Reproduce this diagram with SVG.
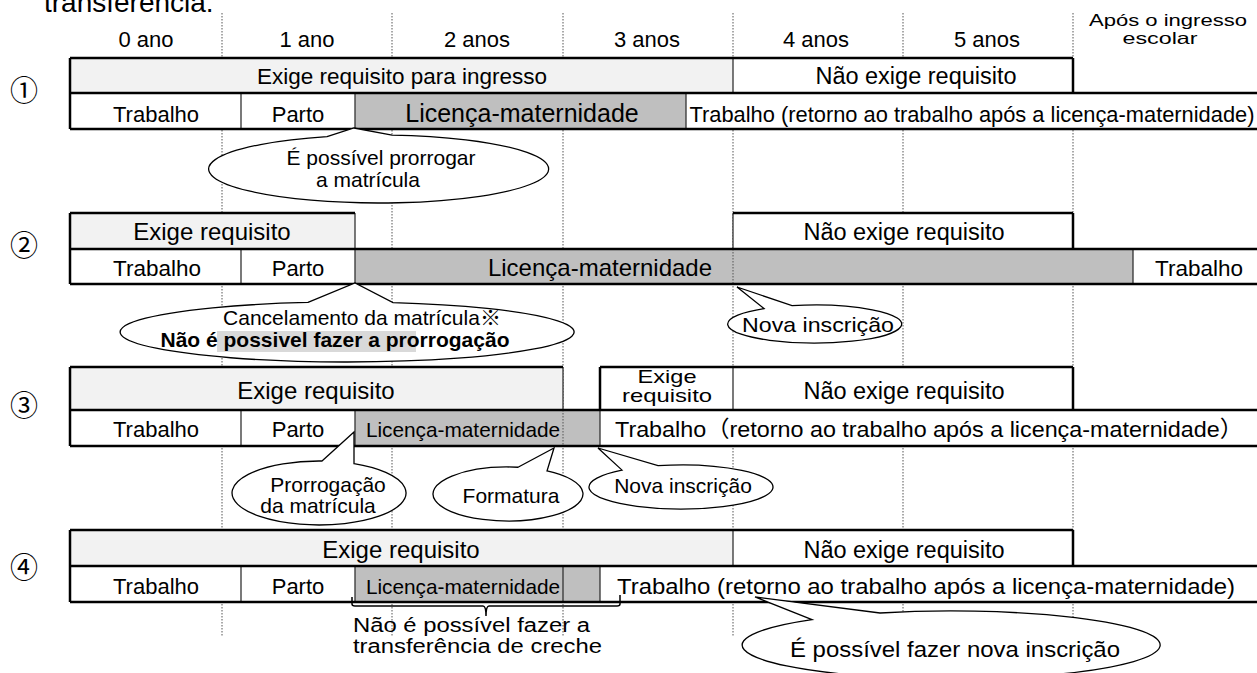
<svg xmlns="http://www.w3.org/2000/svg" width="1257" height="673" viewBox="0 0 1257 673">
<defs>
<style>
.t{font-family:"Liberation Sans","Noto Sans CJK JP",sans-serif;fill:#000;text-anchor:middle}
.num{font-family:"Noto Sans CJK JP",sans-serif;fill:#000;text-anchor:middle;font-size:28px}
.light{fill:#f2f2f2}
.gray{fill:#bfbfbf}
.white{fill:#fff}
.thick{stroke:#000;stroke-width:2.5;fill:none}
.thin{stroke:#333;stroke-width:1.3;fill:none}
.dot{stroke:#555;stroke-width:1;stroke-dasharray:1.5 1.5;fill:none}
.callout{fill:#fff;stroke:#000;stroke-width:1.3}
</style>
</defs>
<rect width="1257" height="673" fill="#fff"/>
<text class="t" x="44" y="12" font-size="28" style="text-anchor:start">transferência.</text>

<g id="gridlines">
<path class="dot" d="M222,13V637M392,13V637M563,13V637M733,13V637M903,13V637M1073,13V637"/>
</g>

<g id="header">
<text class="t" x="146" y="47" font-size="22">0 ano</text>
<text class="t" x="307" y="47" font-size="22">1 ano</text>
<text class="t" x="477" y="47" font-size="22">2 anos</text>
<text class="t" x="647" y="47" font-size="22">3 anos</text>
<text class="t" x="816" y="47" font-size="22">4 anos</text>
<text class="t" x="987" y="47" font-size="22">5 anos</text>
<text class="t" x="1168" y="26" font-size="16.5" textLength="158" lengthAdjust="spacingAndGlyphs">Após o ingresso</text>
<text class="t" x="1160" y="44" font-size="16.5" textLength="75" lengthAdjust="spacingAndGlyphs">escolar</text>
</g>

<g id="row1">
<text class="num" x="24" y="101">①</text>
<rect class="light" x="70" y="58" width="663" height="35"/>
<rect class="white" x="733" y="58" width="340" height="35"/>
<rect class="white" x="70" y="93" width="1187" height="36"/>
<rect class="gray" x="355" y="93" width="331" height="36"/>
<path class="thin" d="M733,58V93M241,93V129M355,93V129M686,93V129"/>
<path class="thick" d="M70,58H1073M1073,58V93M70,93H1257M70,129H1257M70,58V129"/>
<text class="t" x="402" y="84" font-size="22.5">Exige requisito para ingresso</text>
<text class="t" x="916" y="84" font-size="23.5">Não exige requisito</text>
<text class="t" x="156" y="122" font-size="22">Trabalho</text>
<text class="t" x="298" y="122" font-size="22">Parto</text>
<text class="t" x="522" y="122" font-size="25">Licença-maternidade</text>
<text class="t" x="972" y="122" font-size="22" textLength="565" lengthAdjust="spacingAndGlyphs">Trabalho (retorno ao trabalho após a licença-maternidade)</text>
</g>

<g id="row2">
<text class="num" x="24" y="256">②</text>
<rect class="light" x="70" y="213" width="285" height="36"/>
<rect class="white" x="733" y="213" width="340" height="36"/>
<rect class="white" x="70" y="249" width="1187" height="35"/>
<rect class="gray" x="355" y="249" width="778" height="35"/>
<path class="thin" d="M355,213V249M733,213V249M241,249V284M355,249V284M1133,249V284"/>
<path class="dot" d="M733,249V284"/>
<path class="thick" d="M70,213H355M733,213H1073M1073,213V249M70,249H1257M70,284H1257M70,213V284"/>
<text class="t" x="212" y="240" font-size="24">Exige requisito</text>
<text class="t" x="904" y="240" font-size="23.5">Não exige requisito</text>
<text class="t" x="157" y="276" font-size="22.5">Trabalho</text>
<text class="t" x="298" y="276" font-size="22">Parto</text>
<text class="t" x="600" y="276" font-size="24">Licença-maternidade</text>
<text class="t" x="1199" y="276" font-size="22.5">Trabalho</text>
</g>

<g id="row3">
<text class="num" x="24" y="416">③</text>
<rect class="light" x="70" y="367" width="493" height="43"/>
<rect class="white" x="600" y="367" width="473" height="43"/>
<rect class="white" x="70" y="410" width="1187" height="36"/>
<rect class="gray" x="355" y="410" width="245" height="36"/>
<path class="thin" d="M563,367V410M733,367V410M241,410V446M355,410V446M600,410V446"/>
<path class="dot" d="M563,410V446"/>
<path class="thick" d="M70,367H563M600,367H1073M600,367V410M1073,367V410M70,410H1257M70,446H1257M70,367V446"/>
<text class="t" x="316" y="399" font-size="24">Exige requisito</text>
<text class="t" x="667" y="383" font-size="18.5" textLength="59" lengthAdjust="spacingAndGlyphs">Exige</text>
<text class="t" x="667" y="402" font-size="18.5" textLength="90" lengthAdjust="spacingAndGlyphs">requisito</text>
<text class="t" x="904" y="399" font-size="23.5">Não exige requisito</text>
<text class="t" x="156" y="437" font-size="22">Trabalho</text>
<text class="t" x="298" y="437" font-size="22">Parto</text>
<text class="t" x="463" y="437" font-size="20.8">Licença-maternidade</text>
<text class="t" x="929" y="437" font-size="22.5" textLength="628" lengthAdjust="spacingAndGlyphs">Trabalho（retorno ao trabalho após a licença-maternidade）</text>
</g>

<g id="row4">
<text class="num" x="24" y="578">④</text>
<rect class="light" x="70" y="530" width="663" height="36"/>
<rect class="white" x="733" y="530" width="340" height="36"/>
<rect class="white" x="70" y="566" width="1187" height="36"/>
<rect class="gray" x="355" y="566" width="245" height="36"/>
<path class="thin" d="M733,530V566M241,566V602M355,566V602M563,566V602M600,566V602"/>
<path class="thick" d="M70,530H1073M1073,530V566M70,566H1257M70,602H1257M70,530V602"/>
<text class="t" x="401" y="558" font-size="24">Exige requisito</text>
<text class="t" x="904" y="558" font-size="23.5">Não exige requisito</text>
<text class="t" x="156" y="594" font-size="22">Trabalho</text>
<text class="t" x="298" y="594" font-size="22">Parto</text>
<text class="t" x="463" y="594" font-size="20.8">Licença-maternidade</text>
<text class="t" x="926" y="594" font-size="22" textLength="618" lengthAdjust="spacingAndGlyphs">Trabalho (retorno ao trabalho após a licença-maternidade)</text>
</g>

<g id="connectors">
<path d="M352,597V604Q352,606 355,606H483Q486,606 486,616Q486,606 489,606H617Q620,606 620,604V595" fill="none" stroke="#000" stroke-width="1.5"/>
</g>

<g id="callout1">
<path class="callout" d="M327,136.6L354,128L392,135.1A170,34 0 1 1 327,136.6Z"/>
<text class="t" x="381" y="165" font-size="21">É possível prorrogar</text>
<text class="t" x="368" y="187" font-size="21">a matrícula</text>
</g>

<g id="callout2">
<path class="callout" d="M308,302.45L355,283L393,302.62A227,30 0 1 1 308,302.45Z"/>
<rect x="217" y="331" width="199" height="21" fill="#d9d9d9"/>
<text class="t" x="362" y="325" font-size="21">Cancelamento da matrícula※</text>
<text class="t" x="335" y="347" font-size="21" font-weight="bold">Não é possivel fazer a prorrogação</text>
</g>

<g id="callout2b">
<path class="callout" d="M764,308.6L737,287L792,305.7A87,19 0 1 1 764,308.6Z"/>
<text class="t" x="818" y="332" font-size="21" textLength="152" lengthAdjust="spacingAndGlyphs">Nova inscrição</text>
</g>

<g id="callout3a">
<path class="callout" d="M322,461.02L354,432L354,463.7A87,32 0 1 1 322,461.02Z"/>
<text class="t" x="328" y="492" font-size="21">Prorrogação</text>
<text class="t" x="318" y="513" font-size="21">da matrícula</text>
</g>

<g id="callout3b">
<path class="callout" d="M518,467.24L554,448L547,470.94A75,27 0 1 1 518,467.24Z"/>
<text class="t" x="511" y="503" font-size="21">Formatura</text>
</g>

<g id="callout3c">
<path class="callout" d="M622,470.12L598,448L658,465.7A92,22 0 1 1 622,470.12Z"/>
<text class="t" x="683" y="493" font-size="21">Nova inscrição</text>
</g>

<g id="bracket-label">
<text class="t" x="353" y="632" font-size="19.5" style="text-anchor:start" textLength="237" lengthAdjust="spacingAndGlyphs">Não é possível fazer a</text>
<text class="t" x="353" y="653" font-size="19.5" style="text-anchor:start" textLength="249" lengthAdjust="spacingAndGlyphs">transferência de creche</text>
</g>

<g id="callout4">
<path class="callout" d="M812,619.6L755,597L880,613A209,34 0 1 1 812,619.6Z"/>
<text class="t" x="955" y="657" font-size="22" textLength="330" lengthAdjust="spacingAndGlyphs">É possível fazer nova inscrição</text>
</g>
</svg>
